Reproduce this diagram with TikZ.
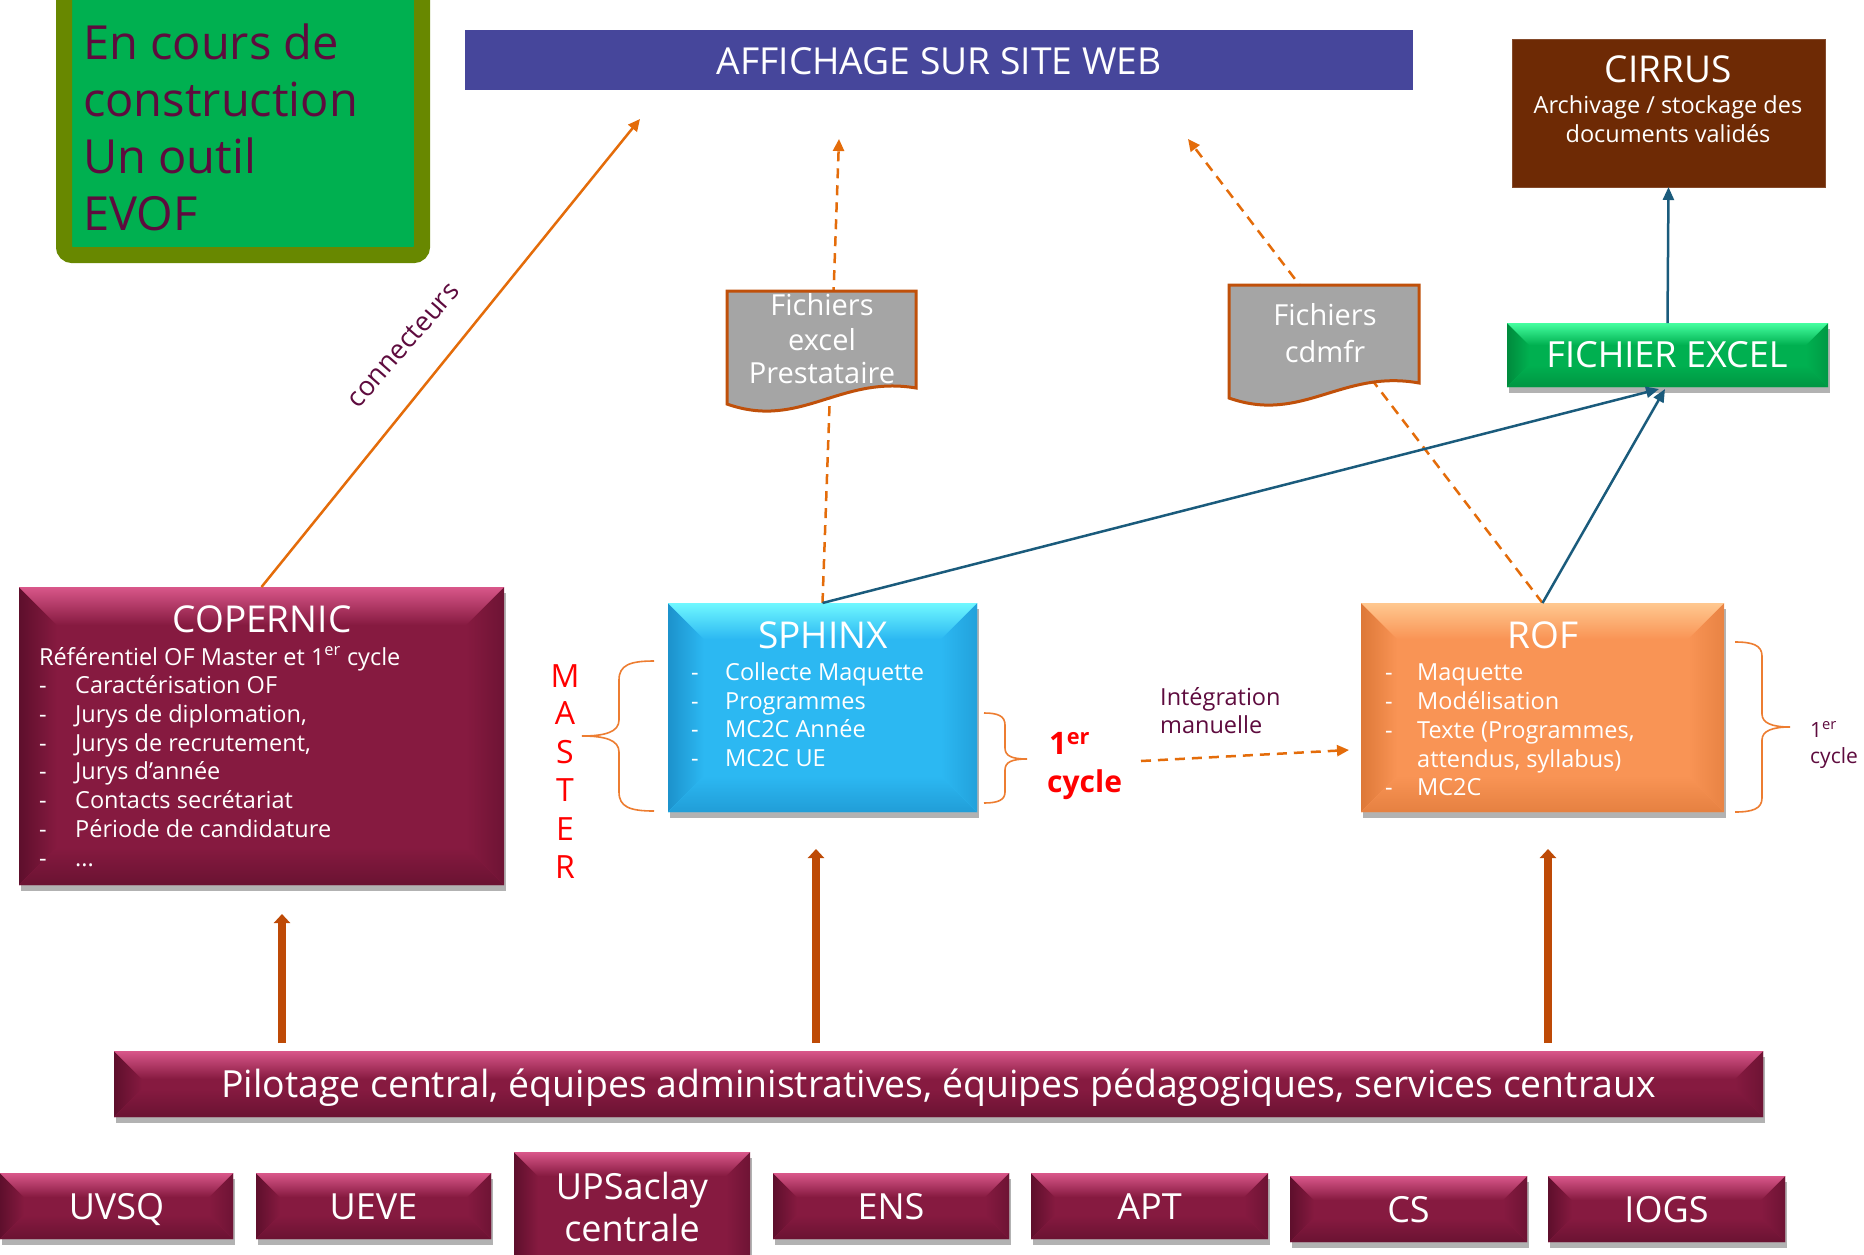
\documentclass[tikz,border=0pt]{standalone}
\usepackage{fontspec}
\setmainfont{Open Sans}
\usetikzlibrary{arrows.meta,shadows}
\pgfdeclarelayer{bg}
\pgfsetlayers{bg,main}
\definecolor{rasp}{HTML}{861A40}
\definecolor{raspL}{HTML}{D9578A}
\definecolor{raspD}{HTML}{5E0F2C}
\definecolor{sphB}{HTML}{2CB8F2}
\definecolor{sphL}{HTML}{70F8FF}
\definecolor{sphD}{HTML}{1C92CC}
\definecolor{rofB}{HTML}{F99455}
\definecolor{rofL}{HTML}{FFC890}
\definecolor{rofD}{HTML}{DD7838}
\definecolor{xlB}{HTML}{00B050}
\definecolor{xlL}{HTML}{45FFA0}
\definecolor{xlD}{HTML}{008A3C}
\definecolor{cirr}{HTML}{6E2A05}
\definecolor{aff}{HTML}{46469B}
\definecolor{evG}{HTML}{00B050}
\definecolor{evO}{HTML}{688800}
\definecolor{purp}{HTML}{5E0B3E}
\definecolor{oline}{HTML}{E46C0A}
\definecolor{brc}{HTML}{ED7D31}
\definecolor{bline}{HTML}{1A5B7C}
\definecolor{docF}{HTML}{A5A5A5}
\definecolor{docB}{HTML}{C0500A}
\definecolor{thk}{HTML}{BE4A06}
\definecolor{mred}{HTML}{FF0000}

\newcommand\fsz[1]{\fontsize{#1}{#1}\selectfont}
\newcommand\mkbox[6]{%
  \pgfmathsetmacro\mkW{#4-#2}\pgfmathsetmacro\mkH{#5-#3}%
  \pgfmathsetmacro\mkX{(#2+#4)/2}\pgfmathsetmacro\mkY{(#3+#5)/2}%
  \node[#6, minimum width=\mkW pt, minimum height=\mkH pt, inner sep=0pt, outer sep=0pt] (#1) at (\mkX,\mkY) {};}

\tikzset{
  bevel/.style n args={4}{fill=#1, path picture={
    \path (path picture bounding box.north west) coordinate (bNW)
          (path picture bounding box.north east) coordinate (bNE)
          (path picture bounding box.south west) coordinate (bSW)
          (path picture bounding box.south east) coordinate (bSE);
    \fill[left color=#3, right color=#1] (bNW) -- ([shift={(#4,#4)}]bNW) -- ([shift={(#4,-#4)}]bSW) -- (bSW) -- cycle;
    \fill[left color=#1, right color=#3!60!#1] (bNE) -- ([shift={(-#4,#4)}]bNE) -- ([shift={(-#4,-#4)}]bSE) -- (bSE) -- cycle;
    \fill[top color=#1, bottom color=#3!70!#1] (bSW) -- ([shift={(#4,-#4)}]bSW) -- ([shift={(-#4,-#4)}]bSE) -- (bSE) -- cycle;
    \fill[top color=#2, bottom color=#1] (bNW) -- (bNE) -- ([shift={(-#4,#4)}]bNE) -- ([shift={(#4,#4)}]bNW) -- cycle;
  }},
  shd/.style={drop shadow={shadow xshift=2pt,shadow yshift=-6pt,opacity=0.3,fill=black}},
  lbl/.style={inner sep=0pt, anchor=base, text=white},
  lbll/.style={inner sep=0pt, anchor=base west, text=white},
  plbl/.style={inner sep=0pt, anchor=base west, text=purp},
  docshape/.style={fill=docF, draw=docB, line width=3pt},
  dashO/.style={oline, line width=2.5pt, dash pattern=on 10pt off 7pt, -{Triangle[length=12pt,width=11pt]}},
  solidO/.style={oline, line width=2.5pt, -{Triangle[length=12pt,width=11pt]}},
  blueA/.style={bline, line width=2.5pt, -{Triangle[length=13pt,width=11pt]}},
  thickA/.style={thk, line width=7.5pt, -{Triangle[length=9pt,width=16pt]}},
  bracel/.style={brc, line width=1.6pt},
}

\begin{document}
\begin{tikzpicture}[x=1pt,y=-1pt]
\useasboundingbox (0,0) rectangle (1864,1254);

% ---------- coordinates for free ends
\coordinate (tA) at (839,139);
\coordinate (tB) at (1188,139);
\coordinate (tC) at (640,119);
\coordinate (xe1) at (1659,389);
\coordinate (xe2) at (1665,389);
\coordinate (iS) at (1141,761);
\coordinate (iE) at (1349,750);

% ---------- EVOF box
\mkbox{evof}{64}{-20}{422}{255}{fill=evG, draw=evO, line width=16pt, rounded corners=8pt}
\node[plbl, font=\fsz{47}] (ev1) at (83,59) {En cours de};
\node[plbl, font=\fsz{47}] (ev2) at (83,116) {construction};
\node[plbl, font=\fsz{47}] (ev3) at (83,173) {Un outil};
\node[plbl, font=\fsz{47}] (ev4) at (83,230) {EVOF};

% ---------- Affichage
\mkbox{aff}{465}{30}{1413}{90}{fill=aff}
\node[lbl, font=\fsz{37.2}] (afft) at (939,74) {AFFICHAGE SUR SITE WEB};

% ---------- CIRRUS
\mkbox{cir}{1512}{39}{1825}{187}{fill=cirr, draw=cirr!85!white, line width=1pt}
\node[lbl, font=\fsz{37}] (cirt) at (1668,82) {CIRRUS};
\node[lbl, font=\fsz{23.5}] (cir1) at (1668,113) {Archivage / stockage des};
\node[lbl, font=\fsz{23.5}] (cir2) at (1668,142) {documents validés};

% ---------- FICHIER EXCEL
\mkbox{xl}{1507}{323}{1828}{387}{bevel={xlB}{xlL}{xlD}{22}, shd}
\node[lbl, font=\fsz{36}] (xlt) at (1667,367) {FICHIER EXCEL};

% ---------- COPERNIC
\mkbox{cop}{19}{587}{504}{885}{bevel={rasp}{raspL}{raspD}{38}, shd}
\node[lbl, font=\fsz{37}] (copt) at (262,632) {COPERNIC};
\node[lbll, font=\fsz{23.5}] (cop0) at (39,665) {Référentiel OF Master et 1\textsuperscript{er} cycle};
\node[lbll, font=\fsz{23.5}] (cop1) at (39,693) {\makebox[36pt][l]{-}Caractérisation OF};
\node[lbll, font=\fsz{23.5}] (cop2) at (39,722) {\makebox[36pt][l]{-}Jurys de diplomation,};
\node[lbll, font=\fsz{23.5}] (cop3) at (39,751) {\makebox[36pt][l]{-}Jurys de recrutement,};
\node[lbll, font=\fsz{23.5}] (cop4) at (39,779) {\makebox[36pt][l]{-}Jurys d’année};
\node[lbll, font=\fsz{23.5}] (cop5) at (39,808) {\makebox[36pt][l]{-}Contacts secrétariat};
\node[lbll, font=\fsz{23.5}] (cop6) at (39,837) {\makebox[36pt][l]{-}Période de candidature};
\node[lbll, font=\fsz{23.5}] (cop7) at (39,866) {\makebox[36pt][l]{-}...};

% ---------- SPHINX
\mkbox{sph}{668}{603}{977}{812}{bevel={sphB}{sphL}{sphD}{36}, shd}
\node[lbl, font=\fsz{37}] (spht) at (823,648) {SPHINX};
\node[lbll, font=\fsz{23.5}] (sph1) at (691,680) {\makebox[34pt][l]{-}Collecte Maquette};
\node[lbll, font=\fsz{23.5}] (sph2) at (691,709) {\makebox[34pt][l]{-}Programmes};
\node[lbll, font=\fsz{23.5}] (sph3) at (691,737) {\makebox[34pt][l]{-}MC2C Année};
\node[lbll, font=\fsz{23.5}] (sph4) at (691,766) {\makebox[34pt][l]{-}MC2C UE};

% ---------- ROF
\mkbox{rof}{1361}{603}{1724}{812}{bevel={rofB}{rofL}{rofD}{36}, shd}
\node[lbl, font=\fsz{37}] (roft) at (1543,648) {ROF};
\node[lbll, font=\fsz{23.5}] (rof1) at (1385,680) {\makebox[32pt][l]{-}Maquette};
\node[lbll, font=\fsz{23.5}] (rof2) at (1385,709) {\makebox[32pt][l]{-}Modélisation};
\node[lbll, font=\fsz{23.5}] (rof3) at (1385,738) {\makebox[32pt][l]{-}Texte (Programmes,};
\node[lbll, font=\fsz{23.5}] (rof4) at (1417,767) {attendus, syllabus)};
\node[lbll, font=\fsz{23.5}] (rof5) at (1385,795) {\makebox[32pt][l]{-}MC2C};

% ---------- Pilotage bar
\mkbox{pil}{114}{1051}{1763}{1117}{bevel={rasp}{raspL}{raspD}{28}, shd}
\node[lbl, font=\fsz{37.4}] (pilt) at (938.5,1097) {Pilotage central, équipes administratives, équipes pédagogiques, services centraux};

% ---------- bottom boxes
\mkbox{uvsq}{0}{1173}{233}{1239}{bevel={rasp}{raspL}{raspD}{24}, shd}
\mkbox{ueve}{256}{1173}{491}{1239}{bevel={rasp}{raspL}{raspD}{24}, shd}
\mkbox{ups}{514}{1152}{750}{1290}{bevel={rasp}{raspL}{raspD}{24}, shd}
\mkbox{ens}{773}{1173}{1009}{1239}{bevel={rasp}{raspL}{raspD}{24}, shd}
\mkbox{apt}{1031}{1173}{1268}{1239}{bevel={rasp}{raspL}{raspD}{24}, shd}
\mkbox{cs}{1290}{1176}{1527}{1242}{bevel={rasp}{raspL}{raspD}{24}, shd}
\mkbox{iogs}{1548}{1176}{1785}{1242}{bevel={rasp}{raspL}{raspD}{24}, shd}
\node[lbl, font=\fsz{36}] (uvsqt) at (116.5,1219) {UVSQ};
\node[lbl, font=\fsz{36}] (uevet) at (373.5,1219) {UEVE};
\node[lbl, font=\fsz{36}] (upst1) at (632,1199) {UPSaclay};
\node[lbl, font=\fsz{36}] (upst2) at (632,1241) {centrale};
\node[lbl, font=\fsz{36}] (enst) at (891,1219) {ENS};
\node[lbl, font=\fsz{36}] (aptt) at (1149.5,1219) {APT};
\node[lbl, font=\fsz{36}] (cst) at (1408.5,1222) {CS};
\node[lbl, font=\fsz{36}] (iogst) at (1666.5,1222) {IOGS};

% ---------- dashed lines behind documents
\begin{pgfonlayer}{bg}
\fill[white] (0,0) rectangle (1864,1254);
\draw[dashO] (sph.north) -- (tA);
\draw[dashO] (rof.north) -- (tB);
\end{pgfonlayer}

% ---------- documents
\draw[docshape] (727,291) -- (916,291) -- (916,388) .. controls (840,375) and (800,430) .. (727,404) -- cycle;
\node[lbl, font=\fsz{29}] (d1a) at (822,315) {Fichiers};
\node[lbl, font=\fsz{29}] (d1b) at (822,350) {excel};
\node[lbl, font=\fsz{29}] (d1c) at (822,383) {Prestataire};
\draw[docshape] (1229,285) -- (1419,285) -- (1419,383) .. controls (1342,369) and (1302,424) .. (1229,398) -- cycle;
\node[lbl, font=\fsz{29}] (d2a) at (1325,325) {Fichiers};
\node[lbl, font=\fsz{29}] (d2b) at (1325,362) {cdmfr};

% ---------- connectors
\draw[solidO] (cop.north) -- (tC);
\node[inner sep=0pt, text=purp, font=\fsz{27}, rotate=49] (conn) at (403,345) {connecteurs};
\draw[blueA] (sph.north) -- (xe1);
\draw[blueA] (rof.north) -- (xe2);
\draw[blueA] (xl.north) -- (cir.south);
\draw[dashO] (iS) -- (iE);
\node[plbl, font=\fsz{23.5}] (int1) at (1160,705) {Intégration};
\node[plbl, font=\fsz{23.5}] (int2) at (1160,733) {manuelle};

% thick arrows from pilotage
\coordinate (a1) at (282,914);
\coordinate (a2) at (816,849);
\coordinate (a3) at (1548,849);
\draw[thickA] (pil.north -| a1) ++(0,-8) -- (a1);
\draw[thickA] (pil.north -| a2) ++(0,-8) -- (a2);
\draw[thickA] (pil.north -| a3) ++(0,-8) -- (a3);

% ---------- braces
\draw[bracel] (654,661) .. controls (630,661) and (619,665) .. (619,680) -- (619,720) .. controls (619,732) and (605,736) .. (582,736) .. controls (605,736) and (619,740) .. (619,752) -- (619,792) .. controls (619,807) and (630,811) .. (654,811);
\draw[bracel] (984,713) .. controls (998,713) and (1005,716) .. (1005,725) -- (1005,748) .. controls (1005,756) and (1012,759) .. (1027,759) .. controls (1012,759) and (1005,762) .. (1005,770) -- (1005,792) .. controls (1005,800) and (998,803) .. (984,803);
\draw[bracel] (1735,642) .. controls (1752,642) and (1762,645) .. (1762,656) -- (1762,714) .. controls (1762,723) and (1772,727) .. (1790,727) .. controls (1772,727) and (1762,731) .. (1762,740) -- (1762,798) .. controls (1762,809) and (1752,812) .. (1735,812);

% ---------- MASTER
\node[lbl, text=mred, font=\fsz{32}] (m1) at (565,687) {M};
\node[lbl, text=mred, font=\fsz{32}] (m2) at (565,724) {A};
\node[lbl, text=mred, font=\fsz{32}] (m3) at (565,763) {S};
\node[lbl, text=mred, font=\fsz{32}] (m4) at (565,801) {T};
\node[lbl, text=mred, font=\fsz{32}] (m5) at (565,840) {E};
\node[lbl, text=mred, font=\fsz{32}] (m6) at (565,878) {R};

% ---------- 1er cycle labels
\node[inner sep=0pt, anchor=base west, text=mred, font=\fsz{31}\bfseries] (c1a) at (1049,754) {1\textsuperscript{er}};
\node[inner sep=0pt, anchor=base west, text=mred, font=\fsz{30}\bfseries] (c1b) at (1047,792) {cycle};
\node[plbl, font=\fsz{21}] (c2a) at (1810,737) {1\textsuperscript{er}};
\node[plbl, font=\fsz{21}] (c2b) at (1810,763) {cycle};
\end{tikzpicture}
\end{document}
